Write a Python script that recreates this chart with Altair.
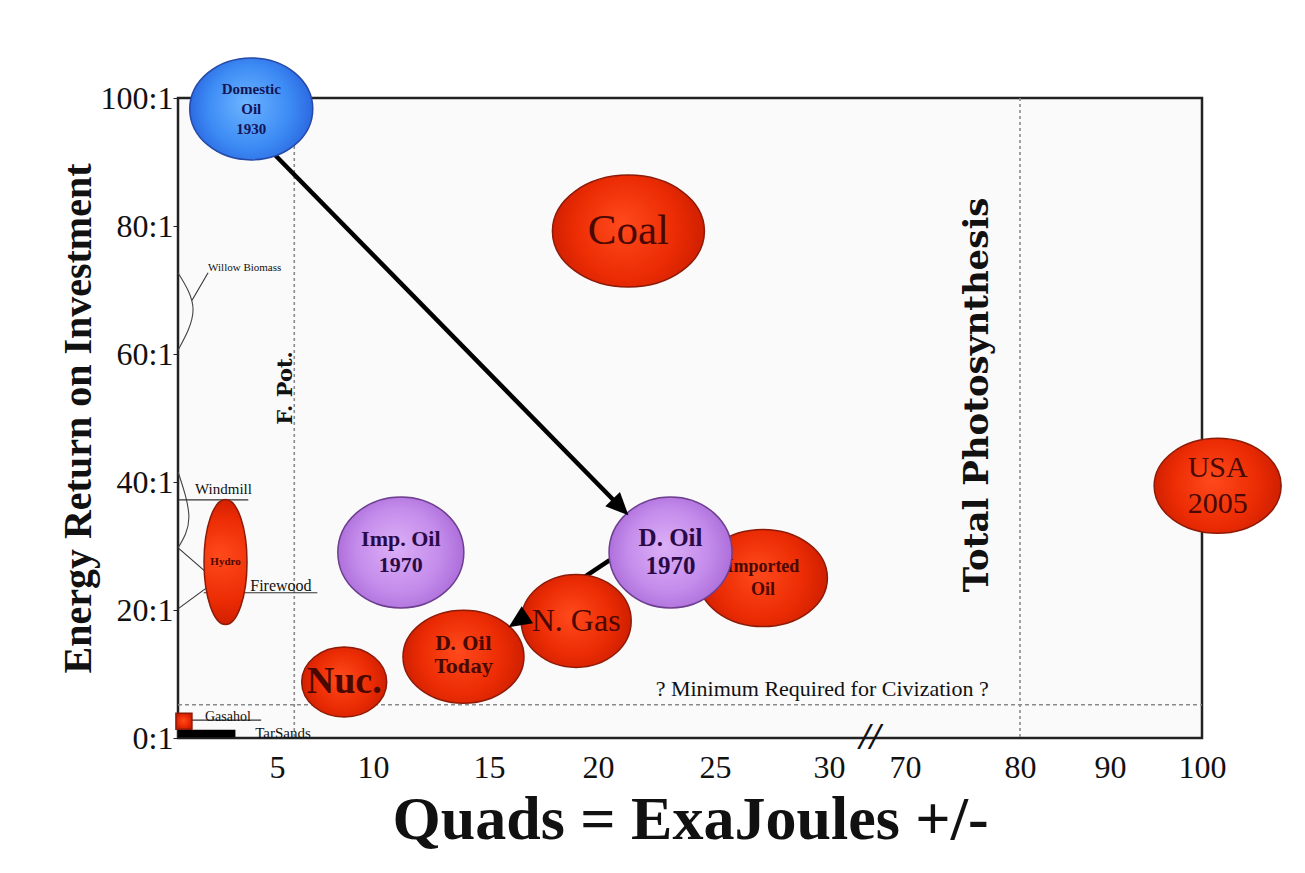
import math
import altair as alt
import numpy as np
import pandas as pd

# ---------------- data ----------------
names = ["Domestic Oil 1930", "Coal", "USA 2005", "Imp. Oil 1970", "D. Oil 1970",
         "Imported Oil", "N. Gas", "D. Oil Today", "Nuc.", "Hydro", "Gasahol"]
labels = ["Domestic\nOil\n1930", "Coal", "USA\n2005", "Imp. Oil\n1970", "D. Oil\n1970",
          "Imported\nOil", "N. Gas", "D. Oil\nToday", "Nuc.", "Hydro", ""]
quads = [3.7, 21.3, 101.7, 11.2, 23.1, 27.1, 19.0, 13.9, 8.5, 2.4, 0.3]
eroi = [98.3, 79.2, 39.4, 29.0, 29.0, 25.0, 18.3, 12.7, 8.75, 27.5, 2.6]
groups = ["blue", "red", "red", "purple", "purple", "red", "red", "red", "red", "red", "red"]

x_knots = [0, 5, 10, 15, 20, 25, 30, 70, 80, 90, 100]   # broken quads axis
x_ticks = [5, 10, 15, 20, 25, 30, 70, 80, 90, 100]
y_ticks = [0, 20, 40, 60, 80, 100]

f_pot_quads = 5.9
photosynthesis_quads = 80
min_eroi = 5.2
break_quads = 51.6

arrow_from_x = [4.9, 20.5]
arrow_from_y = [91.1, 27.8]
arrow_to_x = [21.3, 15.9]
arrow_to_y = [34.8, 17.3]

tarsands_quads = [0.0, 2.9]
tarsands_eroi = [0.1, 1.3]

# small annotations: label, quads, eroi
note_text = ["Willow Biomass", "Windmill", "Firewood", "Gasahol", "TarSands"]
note_x = [1.52, 0.86, 3.65, 1.36, 3.9]
note_y = [73.4, 38.9, 23.7, 3.3, 0.8]

# bracket curves (id, quads, eroi)
bracket_id = ["willow", "willow", "willow", "wind", "wind", "wind"]
bracket_x = [0.0, 0.76, 0.0, 0.0, 0.55, 0.0]
bracket_y = [72.7, 66.9, 60.6, 41.6, 34.5, 29.7]

# leader lines
lead_x1 = [0.71, 0.05, 1.3, 0.05, 0.05, 0.6]
lead_y1 = [68.4, 37.2, 22.7, 29.6, 20.3, 2.8]
lead_x2 = [1.52, 3.55, 7.1, 1.46, 1.46, 4.2]
lead_y2 = [72.7, 37.2, 22.7, 25.8, 23.5, 2.8]

# ---------------- layout / style ----------------
W, H = 1024, 640
x_range = [0, 99, 195, 311, 420, 537, 651, 727, 842, 932, 1024]

bubble_style = {  # width px, height px
    "Domestic Oil 1930": (123, 102),
    "Coal": (152, 112),
    "USA 2005": (127, 95),
    "Imp. Oil 1970": (126, 111),
    "D. Oil 1970": (123, 111),
    "Imported Oil": (129, 97),
    "N. Gas": (110, 93),
    "D. Oil Today": (121, 93),
    "Nuc.": (85, 70),
    "Hydro": (43, 125),
    "Gasahol": (16, 16),
}
label_style = {  # font, size, weight, line height
    "Domestic Oil 1930": ("Liberation Serif", 15, "bold", 20),
    "Coal": ("Liberation Serif", 43, "normal", 44),
    "USA 2005": ("Liberation Serif", 30, "normal", 36),
    "Imp. Oil 1970": ("Liberation Serif", 22, "bold", 26),
    "D. Oil 1970": ("Liberation Serif", 25, "bold", 28),
    "Imported Oil": ("Liberation Serif", 18, "bold", 23),
    "N. Gas": ("Liberation Serif", 32, "normal", 34),
    "D. Oil Today": ("DejaVu Serif", 18, "bold", 23),
    "Nuc.": ("Liberation Serif", 38, "bold", 40),
    "Hydro": ("Liberation Serif", 11, "bold", 12),
}

palette = {
    "red": (["#ff4a1c", "#ec2c04", "#c81c00"], "#8e1a08", "#4a0800"),
    "purple": (["#dcb0f7", "#c48ceb", "#a767d6"], "#6e3f90", "#2a0a46"),
    "blue": (["#6db4ff", "#3d8cf5", "#2760dc"], "#2449a8", "#141458"),
}


def ellipse_path(w, h):
    r = h / w
    return f"M-1,0A1,{r:.4f},0,1,1,1,0A1,{r:.4f},0,1,1,-1,0Z"


rows = []
for n, lab, qx, ey, g in zip(names, labels, quads, eroi, groups):
    w, h = bubble_style[n]
    shape = "M-1,-1L1,-1L1,1L-1,1Z" if n == "Gasahol" else ellipse_path(w, h)
    rows.append(dict(name=n, label=lab, quads=qx, eroi=ey, group=g, shape=shape, size=w * w))
bubbles = pd.DataFrame(rows)

xs = alt.Scale(domain=x_knots, range=x_range, zero=False, nice=False)
ys = alt.Scale(domain=[0, 100], zero=False, nice=False)


def px(v):
    return float(np.interp(v, x_knots, x_range))


def py(v):
    return H - v / 100 * H


def inv_x(p):
    return float(np.interp(p, x_range, x_knots))


def inv_y(p):
    return (H - p) / H * 100


# arrows: shorten shaft a bit and compute head angle in screen space
arrow_rows = []
head_rows = []
for x0, y0, x1, y1 in zip(arrow_from_x, arrow_from_y, arrow_to_x, arrow_to_y):
    sx0, sy0, sx1, sy1 = px(x0), py(y0), px(x1), py(y1)
    dx, dy = sx1 - sx0, sy1 - sy0
    L = math.hypot(dx, dy)
    ex, ey_ = sx1 - dx / L * 14, sy1 - dy / L * 14
    arrow_rows.append(dict(x=x0, y=y0, x2=inv_x(ex), y2=inv_y(ey_)))
    ang = math.degrees(math.atan2(dy, dx)) % 360
    head_rows.append(dict(x=x1, y=y1, angle=ang))
arrows = pd.DataFrame(arrow_rows)
heads = pd.DataFrame(head_rows)

layers = []

# reference dashed lines
vlines = pd.DataFrame({"x": [f_pot_quads, photosynthesis_quads]})
layers.append(alt.Chart(vlines).mark_rule(color="#8a8a8a", strokeDash=[3, 3], strokeWidth=1.6).encode(
    x=alt.X("x:Q", scale=xs), y=alt.value(0), y2=alt.value(H)))
hline = pd.DataFrame({"y": [min_eroi]})
layers.append(alt.Chart(hline).mark_rule(color="#8a8a8a", strokeDash=[4, 3], strokeWidth=1.6).encode(
    y=alt.Y("y:Q", scale=ys), x=alt.value(0), x2=alt.value(W)))

# brackets & leader lines
br = pd.DataFrame({"id": bracket_id, "x": bracket_x, "y": bracket_y, "i": list(range(len(bracket_x)))})
layers.append(alt.Chart(br).mark_line(color="#444", strokeWidth=1.1, interpolate="natural").encode(
    x=alt.X("x:Q", scale=xs), y=alt.Y("y:Q", scale=ys), detail="id:N", order="i:Q"))
ld = pd.DataFrame({"x": lead_x1, "y": lead_y1, "x2": lead_x2, "y2": lead_y2})
layers.append(alt.Chart(ld).mark_rule(color="#333", strokeWidth=1.1).encode(
    x=alt.X("x:Q", scale=xs), y=alt.Y("y:Q", scale=ys), x2="x2:Q", y2="y2:Q"))

# tar sands bar
ts = pd.DataFrame({"x": [tarsands_quads[0]], "x2": [tarsands_quads[1]],
                   "y": [tarsands_eroi[0]], "y2": [tarsands_eroi[1]]})
layers.append(alt.Chart(ts).mark_rect(color="black").encode(
    x=alt.X("x:Q", scale=xs), x2="x2:Q", y=alt.Y("y:Q", scale=ys), y2="y2:Q"))

# small annotation labels
notes = pd.DataFrame({"t": note_text, "x": note_x, "y": note_y,
                      "fs": [11, 15, 16, 14, 15]})
layers.append(alt.Chart(notes).mark_text(align="left", baseline="middle", font="Liberation Serif",
                                         color="#111").encode(
    x=alt.X("x:Q", scale=xs), y=alt.Y("y:Q", scale=ys), text="t:N", size=alt.Size("fs:Q", scale=None)))

# arrow shafts
layers.append(alt.Chart(arrows).mark_rule(color="black", strokeWidth=4.5).encode(
    x=alt.X("x:Q", scale=xs), y=alt.Y("y:Q", scale=ys), x2="x2:Q", y2="y2:Q"))


def radial(stops):
    return alt.RadialGradient(
        gradient="radial", x1=0.45, y1=0.45, r1=0.0, x2=0.5, y2=0.5, r2=0.55,
        stops=[alt.GradientStop(offset=0, color=stops[0]),
               alt.GradientStop(offset=0.6, color=stops[1]),
               alt.GradientStop(offset=1, color=stops[2])])


for g in ["red", "purple", "blue"]:
    stops, stroke, tcol = palette[g]
    base = alt.Chart(bubbles).transform_filter(alt.datum.group == g)
    layers.append(base.mark_point(filled=True, fill=radial(stops), stroke=stroke, strokeWidth=1.5,
                                  opacity=1).encode(
        x=alt.X("quads:Q", scale=xs), y=alt.Y("eroi:Q", scale=ys),
        shape=alt.Shape("shape:N", scale=None), size=alt.Size("size:Q", scale=None)))
    for n, lab, gg in zip(names, labels, groups):
        if gg != g or n not in label_style:
            continue
        font, fs, fw, lh = label_style[n]
        nlines = lab.count("\n") + 1
        layers.append(alt.Chart(bubbles).transform_filter(alt.datum.name == n).mark_text(
            font=font, fontSize=fs, fontWeight=fw, color=tcol, lineHeight=lh,
            dy=-(nlines - 1) * lh / 2,
            align="center", baseline="middle", lineBreak="\n").encode(
            x=alt.X("quads:Q", scale=xs), y=alt.Y("eroi:Q", scale=ys), text="label:N"))

# arrow heads (tip at the origin of the symbol)
tri = "M0,0L-2.2,-1.0L-2.2,1.0Z"
layers.append(alt.Chart(heads).mark_point(shape=tri, filled=True, color="black", size=420, opacity=1).encode(
    x=alt.X("x:Q", scale=xs), y=alt.Y("y:Q", scale=ys), angle=alt.Angle("angle:Q", scale=None)))

# rotated and free text annotations
rot = pd.DataFrame({"t": ["F. Pot.", "Total Photosynthesis"], "x": [5.47, 76.35], "y": [54.7, 53.6],
                    "fs": [21, 34]})
layers.append(alt.Chart(rot).mark_text(angle=270, font="DejaVu Serif", fontWeight="bold",
                                       color="#111", baseline="middle", align="center").encode(
    x=alt.X("x:Q", scale=xs), y=alt.Y("y:Q", scale=ys), text="t:N", size=alt.Size("fs:Q", scale=None)))

mintxt = pd.DataFrame({"t": ["? Minimum Required for Civization ?"], "x": [29.7], "y": [7.6]})
layers.append(alt.Chart(mintxt).mark_text(font="Liberation Serif", fontSize=22, color="#111",
                                          baseline="middle", align="center").encode(
    x=alt.X("x:Q", scale=xs), y=alt.Y("y:Q", scale=ys), text="t:N"))

brk = pd.DataFrame({"t": ["//"], "x": [break_quads], "y": [0.0]})
layers.append(alt.Chart(brk).mark_text(font="Liberation Serif", fontSize=38, fontStyle="italic",
                                       fontWeight="bold", color="#111",
                                       baseline="middle", align="center").encode(
    x=alt.X("x:Q", scale=xs), y=alt.Y("y:Q", scale=ys), text="t:N"))

# axes carrier
axis_df = pd.DataFrame({"x": [0.0], "y": [0.0]})
axes = alt.Chart(axis_df).mark_point(opacity=0).encode(
    x=alt.X("x:Q", scale=xs, axis=alt.Axis(
        values=x_ticks, title="Quads = ExaJoules +/-", grid=False, domain=False, ticks=False,
        labelFont="Liberation Serif", labelFontSize=32, labelColor="#111", labelPadding=14,
        labelFlush=False, labelOverlap=False,
        titleFont="Liberation Serif", titleFontSize=62, titleFontWeight="bold", titleColor="#111",
        titlePadding=6)),
    y=alt.Y("y:Q", scale=ys, axis=alt.Axis(
        values=y_ticks, labelExpr="datum.value + ':1'", title="Energy Return on Investment",
        grid=False, domain=False, ticks=True, tickSize=5, tickColor="#222",
        labelFont="Liberation Serif", labelFontSize=32, labelColor="#111", labelPadding=0,
        labelFlush=False, labelOverlap=False,
        titleFont="Liberation Serif", titleFontSize=40, titleFontWeight="bold", titleColor="#111",
        titlePadding=2)),
)

chart = alt.layer(axes, *layers).properties(
    width=W, height=H,
    autosize=alt.AutoSizeParams(type="none"),
    padding={"left": 170, "top": 90, "right": 95, "bottom": 127},
).configure(
    background="white"
).configure_view(
    stroke="#222", strokeWidth=2.5, fill="#fafafa"
)

chart.save("out.html", embed_options={"renderer": "svg", "actions": False})
